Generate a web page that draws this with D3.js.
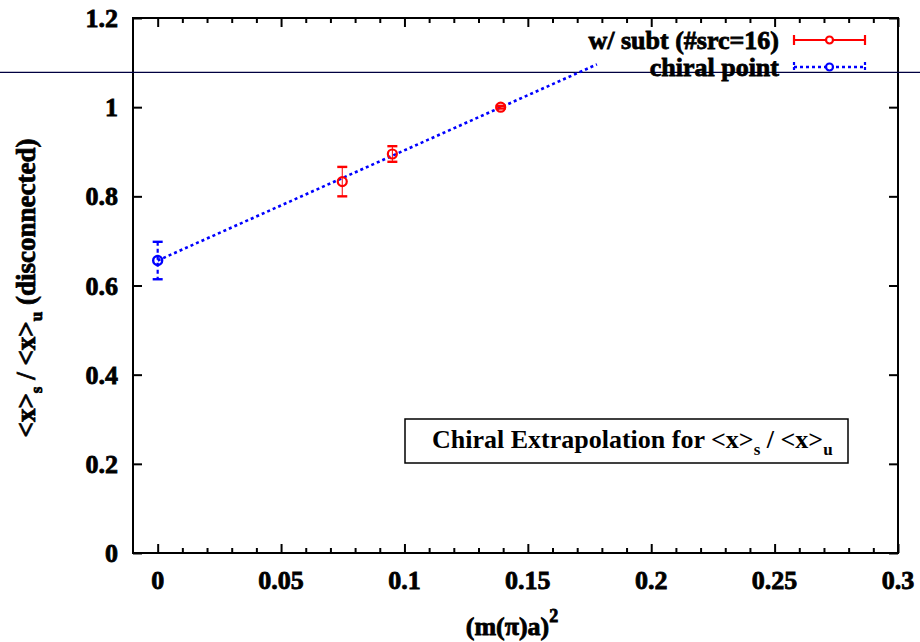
<!DOCTYPE html>
<html>
<head>
<meta charset="utf-8">
<script src="https://cdn.jsdelivr.net/npm/d3@7/dist/d3.min.js"></script>
<style>
  html, body { margin: 0; padding: 0; background: #fff; }
  svg { display: block; }
</style>
</head>
<body>
<svg id="chart" width="920" height="642" font-family="'Liberation Serif', 'DejaVu Serif', 'Times New Roman', serif" font-weight="bold"></svg>
<script>
// Measured ratio <x>_s / <x>_u with subtraction (#src=16)
const subtX   = [0.0748, 0.0951, 0.139];
const subtY   = [0.833, 0.895, 1.000];
const subtErr = [0.033, 0.0175, 0.003];

// Chiral-limit point
const chiralX   = [0.0];
const chiralY   = [0.656];
const chiralErr = [0.042];

// Linear extrapolation line (endpoints)
const fitX = [0.0, 0.178];
const fitY = [0.656, 1.096];

// Horizontal guide level
const guideLevel = 1.078;

// Axis ticks
const xTicks = [0, 0.05, 0.1, 0.15, 0.2, 0.25, 0.3];
const xTickLabels = ["0", "0.05", "0.1", "0.15", "0.2", "0.25", "0.3"];
const xMinorTicks = [0.01, 0.02, 0.03, 0.04, 0.06, 0.07, 0.08, 0.09, 0.11, 0.12, 0.13, 0.14,
                     0.16, 0.17, 0.18, 0.19, 0.21, 0.22, 0.23, 0.24, 0.26, 0.27, 0.28, 0.29];
const yTicks = [0, 0.2, 0.4, 0.6, 0.8, 1, 1.2];
const yTickLabels = ["0", "0.2", "0.4", "0.6", "0.8", "1", "1.2"];

const legendLabels = ["w/ subt (#src=16)", "chiral point"];

const svg = d3.select("#chart");
const L = 133, R = 898, T = 18, B = 553;

const x = d3.scaleLinear().domain([-0.01, 0.3]).range([L, R]);
const y = d3.scaleLinear().domain([0, 1.2]).range([B, T]);

const RED = "#ff0000", BLUE = "#0000ff";

// Axes (bottom/top with major + minor ticks, left/right major only)
const tickStyle = g => g.call(s => s.select(".domain").remove())
  .selectAll("line").attr("stroke", "#000").attr("stroke-width", 2);

svg.append("g").attr("transform", `translate(0,${B})`)
  .call(d3.axisTop(x).tickValues(xTicks).tickSize(9).tickFormat(""))
  .call(tickStyle);
svg.append("g").attr("transform", `translate(0,${B})`)
  .call(d3.axisTop(x).tickValues(xMinorTicks).tickSize(5).tickFormat(""))
  .call(tickStyle);
svg.append("g").attr("transform", `translate(0,${T})`)
  .call(d3.axisBottom(x).tickValues(xTicks).tickSize(9).tickFormat(""))
  .call(tickStyle);
svg.append("g").attr("transform", `translate(0,${T})`)
  .call(d3.axisBottom(x).tickValues(xMinorTicks).tickSize(5).tickFormat(""))
  .call(tickStyle);
svg.append("g").attr("transform", `translate(${L},0)`)
  .call(d3.axisRight(y).tickValues(yTicks).tickSize(9).tickFormat(""))
  .call(tickStyle);
svg.append("g").attr("transform", `translate(${R},0)`)
  .call(d3.axisLeft(y).tickValues(yTicks).tickSize(9).tickFormat(""))
  .call(tickStyle);

// Tick labels
svg.append("g").selectAll("text").data(xTicks).join("text")
  .attr("x", d => x(d)).attr("y", 589)
  .attr("text-anchor", "middle").attr("font-size", 26)
  .attr("stroke", "#000").attr("stroke-width", 0.8)
  .text((d, i) => xTickLabels[i]);
svg.append("g").selectAll("text").data(yTicks).join("text")
  .attr("x", 118).attr("y", d => y(d) + 9)
  .attr("text-anchor", "end").attr("font-size", 26)
  .attr("stroke", "#000").attr("stroke-width", 0.8)
  .text((d, i) => yTickLabels[i]);

// Frame
svg.append("rect").attr("x", L).attr("y", T).attr("width", R - L).attr("height", B - T)
  .attr("fill", "none").attr("stroke", "#000").attr("stroke-width", 2);

// Horizontal guide line across the whole figure
svg.append("line").attr("x1", 0).attr("x2", 920)
  .attr("y1", y(guideLevel)).attr("y2", y(guideLevel))
  .attr("stroke", "#000040").attr("stroke-width", 1.2);

// Extrapolation line
svg.append("path")
  .datum(fitX.map((d, i) => [d, fitY[i]]))
  .attr("d", d3.line().x(d => x(d[0])).y(d => y(d[1])))
  .attr("fill", "none").attr("stroke", BLUE).attr("stroke-width", 2.6)
  .attr("stroke-dasharray", "3,3");

// Error bars helper
function errorBars(xs, ys, es, color, dashed) {
  const g = svg.append("g");
  xs.forEach((xv, i) => {
    const cx = x(xv), y1 = y(ys[i] + es[i]), y0 = y(ys[i] - es[i]);
    g.append("line").attr("x1", cx).attr("x2", cx).attr("y1", y1).attr("y2", y0)
      .attr("stroke", color).attr("stroke-width", dashed ? 2.2 : 1)
      .attr("stroke-dasharray", dashed ? "4,3" : null);
    [y1, y0].forEach(yy => g.append("line")
      .attr("x1", cx - 5).attr("x2", cx + 5).attr("y1", yy).attr("y2", yy)
      .attr("stroke", color).attr("stroke-width", 2.4));
  });
}
errorBars(subtX, subtY, subtErr, RED, false);
errorBars(chiralX, chiralY, chiralErr, BLUE, true);

// Point markers
svg.append("g").selectAll("circle").data(subtX).join("circle")
  .attr("cx", d => x(d)).attr("cy", (d, i) => y(subtY[i])).attr("r", 4.5)
  .attr("fill", "none").attr("stroke", RED).attr("stroke-width", 2.2);
svg.append("g").selectAll("circle").data(chiralX).join("circle")
  .attr("cx", d => x(d)).attr("cy", (d, i) => y(chiralY[i])).attr("r", 4.5)
  .attr("fill", "none").attr("stroke", BLUE).attr("stroke-width", 2.4);

// Legend
const legend = svg.append("g");
const legendRows = [
  { label: legendLabels[0], color: RED, dashed: false, yy: 40 },
  { label: legendLabels[1], color: BLUE, dashed: true, yy: 67 }
];
legendRows.forEach(r => {
  legend.append("text").attr("x", 779).attr("y", r.yy + 9)
    .attr("text-anchor", "end").attr("font-size", 26)
    .attr("stroke", "#000").attr("stroke-width", 0.8).text(r.label);
  legend.append("line").attr("x1", 794).attr("x2", 865).attr("y1", r.yy).attr("y2", r.yy)
    .attr("stroke", r.color).attr("stroke-width", r.dashed ? 2.4 : 2)
    .attr("stroke-dasharray", r.dashed ? "3,3" : null);
  [794, 865].forEach(ex => legend.append("line")
    .attr("x1", ex).attr("x2", ex).attr("y1", r.yy - 5).attr("y2", r.yy + 5)
    .attr("stroke", r.color).attr("stroke-width", 2.2)
    .attr("stroke-dasharray", r.dashed ? "3,2" : null));
  legend.append("circle").attr("cx", 829.5).attr("cy", r.yy).attr("r", 3.5)
    .attr("fill", "#fff").attr("stroke", r.color).attr("stroke-width", 2.2);
});

// Title box
svg.append("rect").attr("x", 405).attr("y", 419).attr("width", 443).attr("height", 44)
  .attr("fill", "#fff").attr("stroke", "#000").attr("stroke-width", 1.5);
const title = svg.append("text").attr("x", 432).attr("y", 448).attr("font-size", 26);
title.append("tspan").text("Chiral Extrapolation for <x>");
title.append("tspan").attr("font-size", 17).attr("dy", 7).text("s");
title.append("tspan").attr("dy", -7).text(" / <x>");
title.append("tspan").attr("font-size", 17).attr("dy", 7).text("u");

// Axis titles
const xl = svg.append("text").attr("x", 512).attr("y", 635).attr("text-anchor", "middle")
  .attr("font-size", 26).attr("stroke", "#000").attr("stroke-width", 0.8);
xl.append("tspan").text("(m(π)a)");
xl.append("tspan").attr("font-size", 18).attr("dy", -13).text("2");

const yl = svg.append("text").attr("transform", "translate(35,288) rotate(-90)")
  .attr("text-anchor", "middle").attr("font-size", 27)
  .attr("stroke", "#000").attr("stroke-width", 0.8);
yl.append("tspan").text("<x>");
yl.append("tspan").attr("font-size", 17).attr("dy", 7).text("s");
yl.append("tspan").attr("dy", -7).text(" / <x>");
yl.append("tspan").attr("font-size", 17).attr("dy", 7).text("u");
yl.append("tspan").attr("dy", -7).text(" (disconnected)");
</script>
</body>
</html>
